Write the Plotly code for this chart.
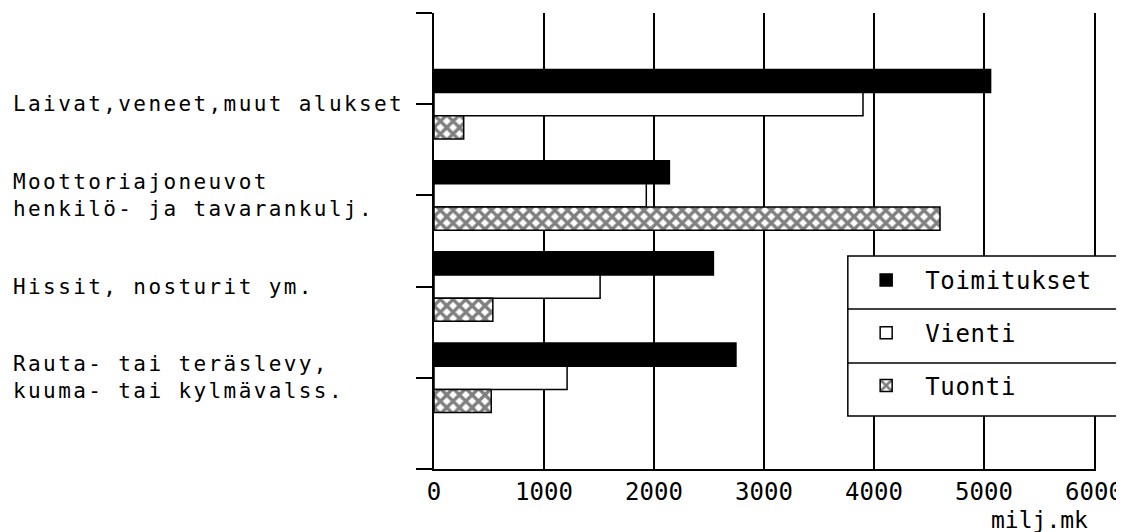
import plotly.graph_objects as go

# ---- data ----
categories = [
    "Laivat,veneet,muut alukset",
    "Moottoriajoneuvot<br>henkilö- ja tavarankulj.",
    "Hissit, nosturit ym.",
    "Rauta- tai teräslevy,<br>kuuma- tai kylmävalss.",
]
series_names = ["Toimitukset", "Vienti", "Tuonti"]
toimitukset = [5060, 2140, 2540, 2745]
vienti = [3900, 1930, 1510, 1210]
tuonti = [270, 4600, 535, 520]
x_ticks = [0, 1000, 2000, 3000, 4000, 5000, 6000]
x_unit = "milj.mk"

FONT = "DejaVu Sans Mono"
ypos = list(range(1, len(categories) + 1))
LSP = '<span style="letter-spacing:0.7px">'

fig = go.Figure()
fig.add_trace(go.Bar(
    y=ypos, x=toimitukset, orientation="h", name=LSP + series_names[0] + "</span>",
    legendgroup="g1",
    marker=dict(color="black", line=dict(color="black", width=1.5)),
))
fig.add_trace(go.Bar(
    y=ypos, x=vienti, orientation="h", name=LSP + series_names[1] + "</span>",
    legendgroup="g2",
    marker=dict(color="white", line=dict(color="black", width=1.5)),
))
fig.add_trace(go.Bar(
    y=ypos, x=tuonti, orientation="h", name=LSP + series_names[2] + "</span>",
    legendgroup="g3",
    marker=dict(color="white",
                pattern=dict(shape="x", fgcolor="black", bgcolor="white",
                             size=9, solidity=0.6),
                line=dict(color="black", width=1.5)),
))

SP = '<span style="letter-spacing:2.4px">'
annotations = []
for pos, lab in zip(ypos, categories):
    annotations.append(dict(
        x=-0.641, xref="paper", y=pos, yref="y",
        text=SP + lab.replace("<br>", "</span><br>" + SP) + "</span>",
        xanchor="left", yanchor="middle", align="left", showarrow=False,
        font=dict(family=FONT, size=21, color="black"),
    ))
annotations.append(dict(
    x=0.918, xref="paper", y=-0.112, yref="paper", text=x_unit,
    xanchor="center", yanchor="middle", showarrow=False,
    font=dict(family=FONT, size=23, color="black"),
))

# legend box with row dividers
box_x0, box_x1 = 0.627, 1.2
box_y0, box_y1 = 0.116, 0.467
shapes = [
    dict(type="rect", xref="paper", yref="paper", x0=box_x0, x1=box_x1,
         y0=box_y0, y1=box_y1, fillcolor="white",
         line=dict(color="black", width=1.5), layer="above"),
    dict(type="line", xref="paper", yref="paper", x0=box_x0, x1=box_x1,
         y0=0.351, y1=0.351, line=dict(color="black", width=1.5), layer="above"),
    dict(type="line", xref="paper", yref="paper", x0=box_x0, x1=box_x1,
         y0=0.2325, y1=0.2325, line=dict(color="black", width=1.5), layer="above"),
]

# the page places the figure 8px from the top-left corner
fig.update_layout(
    width=1116, height=524,
    margin=dict(l=426, r=30, t=5, b=63, autoexpand=False),
    paper_bgcolor="white", plot_bgcolor="white",
    barmode="group", bargap=0.238, bargroupgap=0,
    font=dict(family=FONT, color="black"),
    showlegend=True,
    legend=dict(
        x=0.626, y=0.4627, xanchor="left", yanchor="top",
        bgcolor="rgba(0,0,0,0)", borderwidth=0,
        font=dict(family=FONT, size=24, color="black"),
        tracegroupgap=18.5, traceorder="grouped", itemwidth=68,
    ),
    annotations=annotations,
    shapes=shapes,
    xaxis=dict(
        range=[x_ticks[0], x_ticks[-1]], tickvals=x_ticks,
        showgrid=True, gridcolor="black", gridwidth=1.5,
        showline=True, linecolor="black", linewidth=1.5,
        zeroline=False, ticks="", automargin=False,
        tickfont=dict(family=FONT, size=24, color="black"),
    ),
    yaxis=dict(
        range=[len(categories) + 1, 0],
        tickvals=list(range(0, len(categories) + 2)),
        showticklabels=False, ticks="outside", ticklen=16,
        tickwidth=1.5, tickcolor="black",
        showline=True, linecolor="black", linewidth=1.5, mirror=True,
        showgrid=False, zeroline=False, automargin=False,
    ),
)

fig.write_html("out.html")
